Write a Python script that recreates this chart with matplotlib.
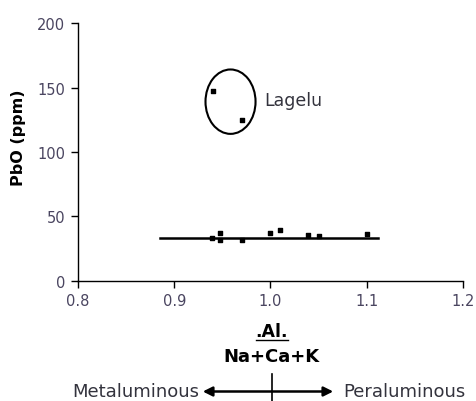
import matplotlib

matplotlib.use("Agg")

import matplotlib.pyplot as plt
from matplotlib.patches import Ellipse, FancyArrowPatch
from matplotlib.lines import Line2D

plt.rcParams["font.family"] = ["DejaVu Sans"]

# A/CNK index vs PbO for the main group
main_ai = [0.939, 0.948, 0.948, 0.970, 1.000, 1.010, 1.039, 1.050, 1.100]
main_pbo = [33, 37, 31.5, 31.5, 37, 39.5, 35.5, 35, 36]

# Lagelu samples
lagelu_ai = [0.940, 0.970]
lagelu_pbo = [147.5, 125]

# trend line through main group
trend_ai = [0.885, 1.112]
trend_pbo = [33, 33]

x_ticks = [0.8, 0.9, 1.0, 1.1, 1.2]
y_ticks = [0, 50, 100, 150, 200]
tick_color = "#4a4560"
text_color = "#33333d"

fig = plt.figure(figsize=(4.77, 4.02), dpi=100)
ax = fig.add_axes([0.1635, 0.2993, 0.807, 0.6407])

ax.scatter(main_ai, main_pbo, marker="s", s=12, color="black", zorder=3)
ax.scatter(lagelu_ai, lagelu_pbo, marker="s", s=12, color="black", zorder=3)
ax.plot(trend_ai, trend_pbo, color="black", linewidth=1.8)

ax.add_patch(Ellipse((0.9585, 139), 0.052, 50, fill=False, edgecolor="black", linewidth=1.5))
ax.text(0.9935, 140, "Lagelu", fontsize=12.5, color=text_color, va="center")

ax.set_xlim(0.8, 1.2)
ax.set_ylim(0, 200)
ax.set_xticks(x_ticks)
ax.set_xticklabels([f"{t:.1f}" for t in x_ticks])
ax.set_yticks(y_ticks)
ax.tick_params(direction="out", length=5, width=1, colors="black", labelcolor=tick_color, labelsize=10.5)
ax.tick_params(axis="x", pad=4)
ax.tick_params(axis="y", pad=4)
ax.spines["top"].set_visible(False)
ax.spines["right"].set_visible(False)
ax.spines["left"].set_linewidth(1)
ax.spines["bottom"].set_linewidth(1)

ax.set_ylabel("PbO (ppm)", fontsize=11.5, fontweight="bold")
ax.yaxis.set_label_coords(-0.135, 0.56)

# x label as a fraction under the axis
fig.text(271.5 / 477, 1 - 332 / 402, ".Al.", ha="center", va="center", fontsize=12.5, fontweight="bold")
fig.add_artist(Line2D([256 / 477, 288 / 477], [1 - 341 / 402, 1 - 341 / 402], color="black", linewidth=1))
fig.text(271.5 / 477, 1 - 357 / 402, "Na+Ca+K", ha="center", va="center", fontsize=13, fontweight="bold")

# metaluminous / peraluminous arrow
arrow_y = 1 - 392.5 / 402
fig.text(199 / 477, arrow_y, "Metaluminous", ha="right", va="center", fontsize=13, color=text_color)
fig.text(343 / 477, arrow_y, "Peraluminous", ha="left", va="center", fontsize=13, color=text_color)
fig.add_artist(FancyArrowPatch(
    (200 / 477, arrow_y), (336 / 477, arrow_y), transform=fig.transFigure,
    arrowstyle="<|-|>", mutation_scale=14, color="black", linewidth=1.8))
fig.add_artist(Line2D([272 / 477, 272 / 477], [1 - 375 / 402, 0], color="black", linewidth=1.2))

fig.savefig("out.png", dpi=100)
